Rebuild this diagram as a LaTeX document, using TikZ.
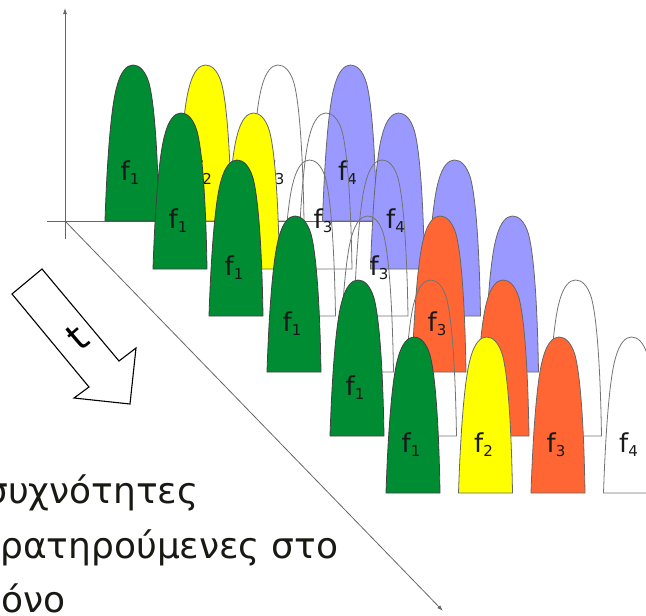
\documentclass[tikz,border=0pt]{standalone}
\usepackage{fontspec}
\setmainfont{DejaVu Sans}
\usetikzlibrary{arrows.meta}
\definecolor{pgreen}{RGB}{0,140,50}
\definecolor{pyellow}{RGB}{255,255,0}
\definecolor{pblue}{RGB}{153,153,255}
\definecolor{porange}{RGB}{255,102,51}
\definecolor{txtcol}{RGB}{25,25,20}
\newcommand\sub[1]{\raisebox{-4pt}{\fontsize{15}{15}\selectfont #1}}
\newcommand\pk[3]{%
  \begin{scope}[shift={(#1,#2)}]
    \path[#3] (0,0) .. controls (2,-60) and (6,-115) .. (12,-135)
      .. controls (16,-150) and (22,-156) .. (28,-156)
      .. controls (34,-156) and (40,-151) .. (44,-138)
      .. controls (50,-115) and (53,-60) .. (54,0) -- cycle;
  \end{scope}}
% #1 row id, #2 left x, #3 baseline, #4-#7 styles
\newcommand\pkrow[7]{%
  \pk{#2}{#3}{#4}\pk{#2+72.5}{#3}{#5}\pk{#2+145}{#3}{#6}\pk{#2+217.5}{#3}{#7}%
  \node[lbl] (#1a) at ({#2+25},{#3-41}) {f\sub{1}};
  \node[lbl] (#1b) at ({#2+97.5},{#3-41}) {f\sub{2}};
  \node[lbl] (#1c) at ({#2+170},{#3-41}) {f\sub{3}};
  \node[lbl] (#1d) at ({#2+242.5},{#3-41}) {f\sub{4}};}
\begin{document}
\begin{tikzpicture}[x=1pt,y=-1pt,
  pkG/.style={fill=pgreen,draw=black!75,line width=0.8pt},
  pkY/.style={fill=pyellow,draw=black!60,line width=0.8pt},
  pkB/.style={fill=pblue,draw=black!60,line width=0.8pt},
  pkO/.style={fill=porange,draw=black!60,line width=0.8pt},
  pkW/.style={draw=black!55,line width=0.8pt},
  lbl/.style={anchor=base,inner sep=0pt,font=\fontsize{26}{26}\selectfont,text=black!90},
  axis/.style={draw=black!60,line width=0.8pt},
  bigtxt/.style={anchor=base west,inner sep=0pt,font=\fontsize{36}{36}\selectfont,text=txtcol},
  tarrow/.style={draw=black,line width=1.1pt,fill=white,line join=miter}]
\useasboundingbox (0,0) rectangle (646,616);
\clip (0,0) rectangle (646,616);
% axes
\coordinate (vtop) at (65,8);
\coordinate (vbot) at (65,239);
\coordinate (o) at (65,221);
\coordinate (hl) at (47,221);
\coordinate (hr) at (372,221);
\coordinate (dend) at (443,611);
\draw[axis,-{Latex[length=6pt,width=4pt]}] (vbot) -- (vtop);
\draw[axis] (hl) -- (hr);
\draw[axis,-{Latex[length=6pt,width=4pt]}] (o) -- (dend);
% rows, back to front
\pkrow{r0}{105}{221}{pkG}{pkY}{pkW}{pkB}
\pkrow{r1}{153}{269}{pkG}{pkY}{pkW}{pkB}
\pkrow{r2}{209}{316}{pkG}{pkW}{pkW}{pkB}
\pkrow{r3}{267}{372}{pkG}{pkW}{pkO}{pkB}
\pkrow{r4}{330}{436}{pkG}{pkW}{pkO}{pkW}
\pkrow{r5}{386}{493}{pkG}{pkY}{pkO}{pkW}
% time arrow
\coordinate (ta) at (42,269);
\coordinate (tg) at (119,361);
\coordinate (tf) at (136,348);
\coordinate (te) at (130,404);
\coordinate (td) at (74,398);
\coordinate (tc) at (89,387);
\coordinate (tb) at (12,294);
\draw[tarrow] (ta) -- (tg) -- (tf) -- (te) -- (td) -- (tc) -- (tb) -- cycle;
\node[rotate=40.6,inner sep=0pt,font=\fontsize{38}{38}\selectfont] (tlab) at (77,338) {t};
% caption
\node[bigtxt] (cap1) at (-15,503) {συχνότητες};
\node[bigtxt] (cap2) at (0,558) {ρατηρούμενες στο};
\node[bigtxt] (cap3) at (1,612) {όνο};
\end{tikzpicture}
\end{document}
